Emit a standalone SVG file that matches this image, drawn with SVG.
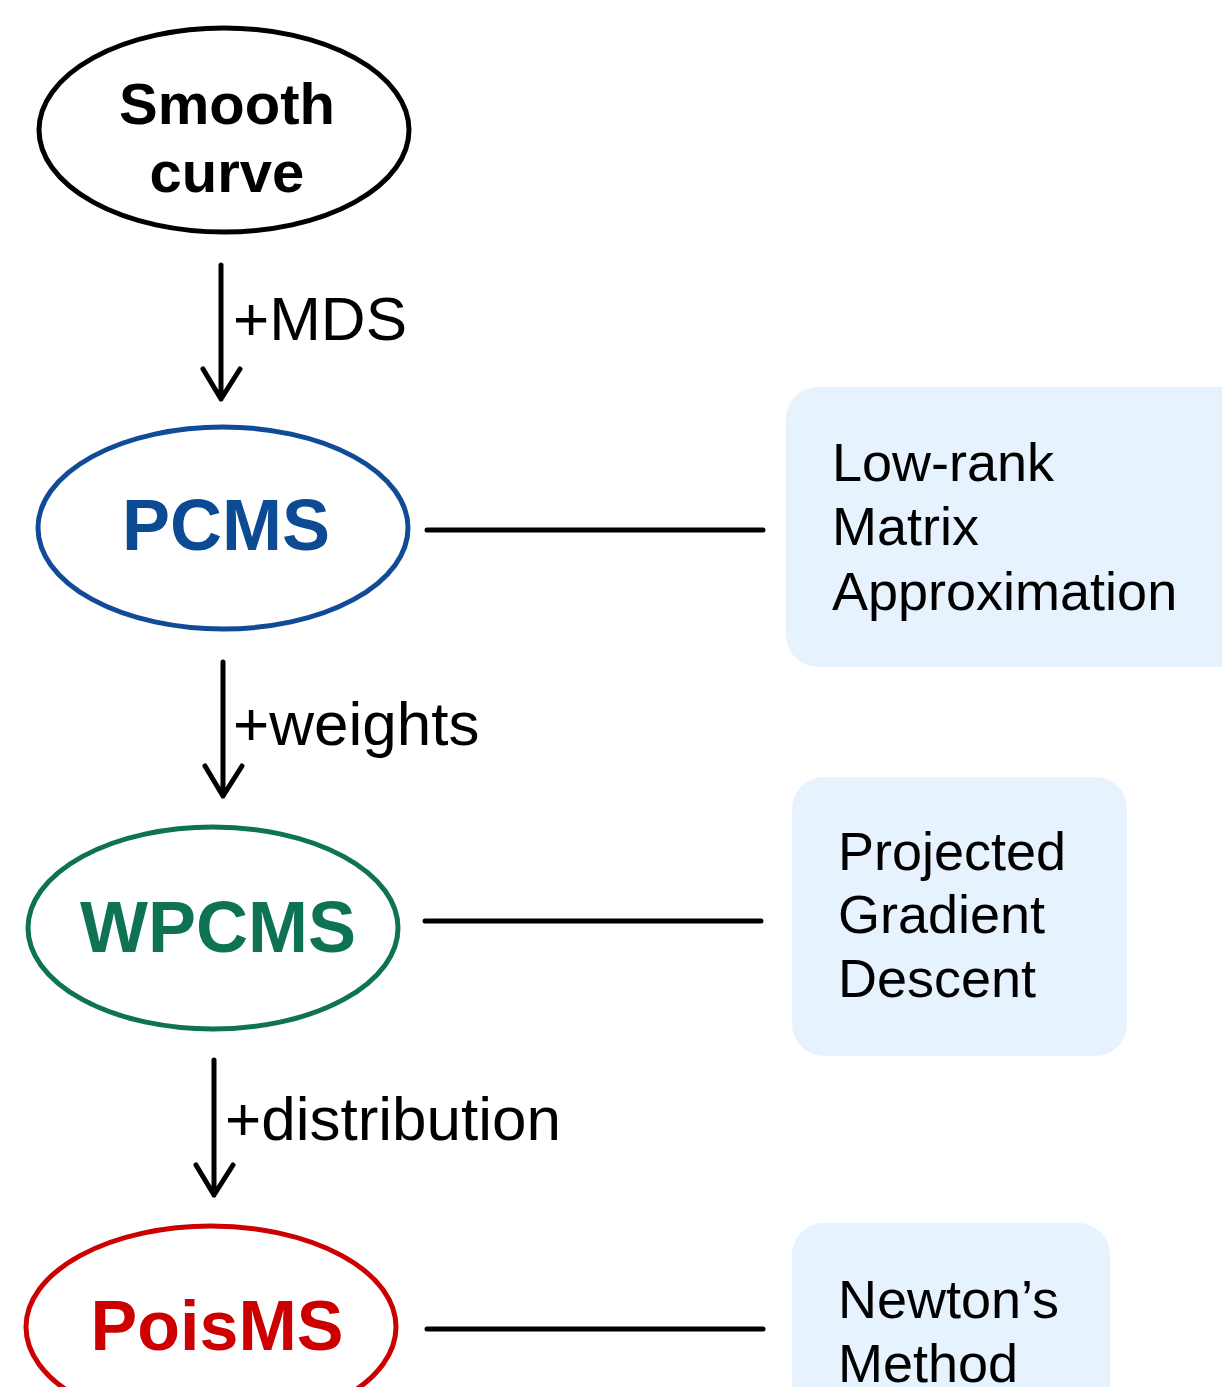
<svg xmlns="http://www.w3.org/2000/svg" width="1222" height="1387" viewBox="0 0 1222 1387">
<style>
.el{fill:#fff;stroke-width:5}
.nt{font-family:"Liberation Sans",Arial,sans-serif;font-weight:bold;text-anchor:middle}
.lbl{font-family:"Liberation Sans",Arial,sans-serif;font-size:62px;fill:#000}
.bt{font-family:"Liberation Sans",Arial,sans-serif;font-size:54px;fill:#000}
.box{fill:#e6f2fd}
.con{stroke:#000;stroke-width:5;fill:none;stroke-linecap:round;stroke-linejoin:round}
</style>
<rect width="1222" height="1387" fill="#fff"/>
<g id="smooth">
<ellipse class="el" cx="224" cy="130" rx="185" ry="102" stroke="#000"/>
<text class="nt" x="227" y="124" font-size="58" fill="#000">Smooth</text>
<text class="nt" x="227" y="192" font-size="58" fill="#000">curve</text>
</g>
<g id="pcms">
<ellipse class="el" cx="223" cy="528" rx="185" ry="101" stroke="#114a96"/>
<text class="nt" x="226" y="550" font-size="72" fill="#0d4a94">PCMS</text>
</g>
<g id="wpcms">
<ellipse class="el" cx="213" cy="928" rx="185" ry="101" stroke="#0e7355"/>
<text class="nt" x="218" y="952" font-size="72" fill="#0e7355">WPCMS</text>
</g>
<g id="poisms">
<ellipse class="el" cx="211" cy="1327" rx="185" ry="101" stroke="#cc0000"/>
<text class="nt" x="217" y="1350" font-size="70" fill="#cc0000">PoisMS</text>
</g>
<g id="lowrank">
<rect class="box" x="786" y="387" width="470" height="280" rx="32"/>
<text class="bt" x="832" y="481">Low-rank</text>
<text class="bt" x="832" y="545">Matrix</text>
<text class="bt" x="832" y="610">Approximation</text>
</g>
<g id="pgd">
<rect class="box" x="792" y="777" width="335" height="279" rx="32"/>
<text class="bt" x="838" y="870">Projected</text>
<text class="bt" x="838" y="933">Gradient</text>
<text class="bt" x="838" y="997">Descent</text>
</g>
<g id="newton">
<rect class="box" x="792" y="1223" width="318" height="220" rx="32"/>
<text class="bt" x="838" y="1318">Newton’s</text>
<text class="bt" x="838" y="1382">Method</text>
</g>
<g id="connectors">
<path class="con" d="M221 265V399M203 369L221 399L240 369"/>
<text class="lbl" x="233" y="340">+MDS</text>
<path class="con" d="M223 662V796M205 766L223 796L242 766"/>
<text class="lbl" x="233" y="745">+weights</text>
<path class="con" d="M214 1060V1195M196 1165L214 1195L233 1165"/>
<text class="lbl" x="225" y="1140">+distribution</text>
<path class="con" d="M427 530H763"/>
<path class="con" d="M425 921H761"/>
<path class="con" d="M427 1329H763"/>
</g>
</svg>
